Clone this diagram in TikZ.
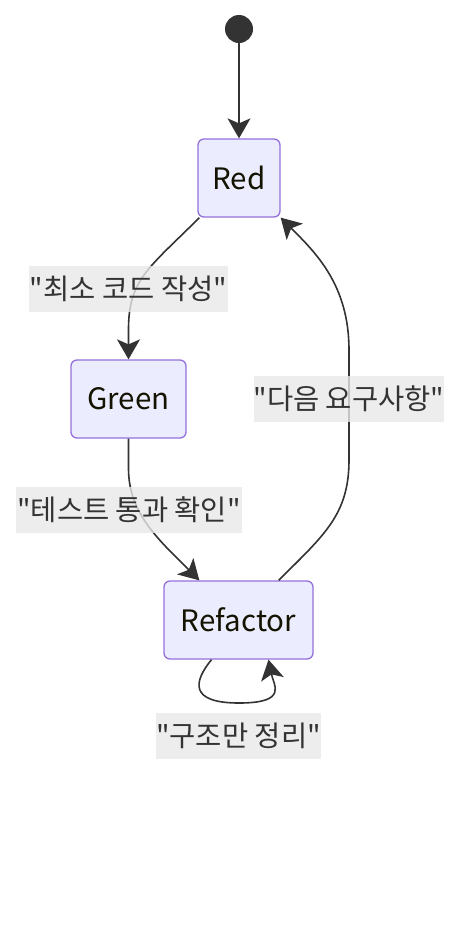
\documentclass[tikz,border=0pt]{standalone}
\usepackage{fontspec}
\newfontfamily\krfont{Noto Sans CJK KR}
\usetikzlibrary{arrows.meta}
\definecolor{boxfill}{HTML}{ECECFF}
\definecolor{boxline}{HTML}{9370DB}
\definecolor{edge}{HTML}{333333}
\definecolor{lblfill}{HTML}{E8E8E8}
\definecolor{nodetext}{HTML}{131300}
\tikzset{
  statebox/.style={draw=boxline, fill=boxfill, line width=1.3pt, rounded corners=6pt,
    minimum height=78pt, inner sep=0pt, text=nodetext, font=\krfont\fontsize{29.5}{32}\selectfont},
  lbl/.style={fill=lblfill, fill opacity=0.8, text opacity=1, text=edge, inner sep=0pt,
    minimum height=46pt, font=\krfont\fontsize{28.5}{32}\selectfont},
  mtip/.tip={Stealth[length=20pt,width=23pt,inset=5pt,fill=edge]},
  tr/.style={draw=edge, line width=1.6pt, arrows={-mtip}},
}
\begin{document}
\begin{tikzpicture}[x=1pt,y=1pt]
\useasboundingbox (0,0) rectangle (476,-946);
\node[circle, fill=edge, minimum size=28pt, inner sep=0pt] (start) at (239,-29) {};
\node[statebox, minimum width=82pt] (red) at (239,-178) {Red};
\node[statebox, minimum width=115pt] (green) at (128.5,-399) {Green};
\node[statebox, minimum width=149pt] (refactor) at (238.5,-620) {Refactor};
% transitions
\draw[tr] (start) -- (red.north);
\draw[tr] ([xshift=2pt]red.south west) .. controls +(-50,-50) and +(0,50) .. ([yshift=30pt]green.north) -- (green.north);
\draw[tr] (green.south) -- ([yshift=-30pt]green.south) .. controls +(0,-45) and +(-40,40) .. ([xshift=36pt]refactor.north west);
\draw[tr] ([xshift=-35pt]refactor.north east) .. controls +(45,45) and +(0,-55) .. (349,-460) -- (349,-350) .. controls +(0,65) and +(35,-35) .. (red.south east);
\draw[tr] ([xshift=-27pt]refactor.south) .. controls +(-18,-22) and +(-50,0) .. (239,-703) .. controls +(50,0) and +(5,-25) .. ([xshift=30pt]refactor.south);
% labels
\node[lbl, minimum width=199pt] (l1) at (128.5,-289) {"최소 코드 작성"};
\node[lbl, minimum width=190pt] (l2) at (349,-399) {"다음 요구사항"};
\node[lbl, minimum width=226pt] (l3) at (129,-510) {"테스트 통과 확인"};
\node[lbl, minimum width=163pt] (l4) at (238.5,-736) {"구조만 정리"};
\end{tikzpicture}
\end{document}
